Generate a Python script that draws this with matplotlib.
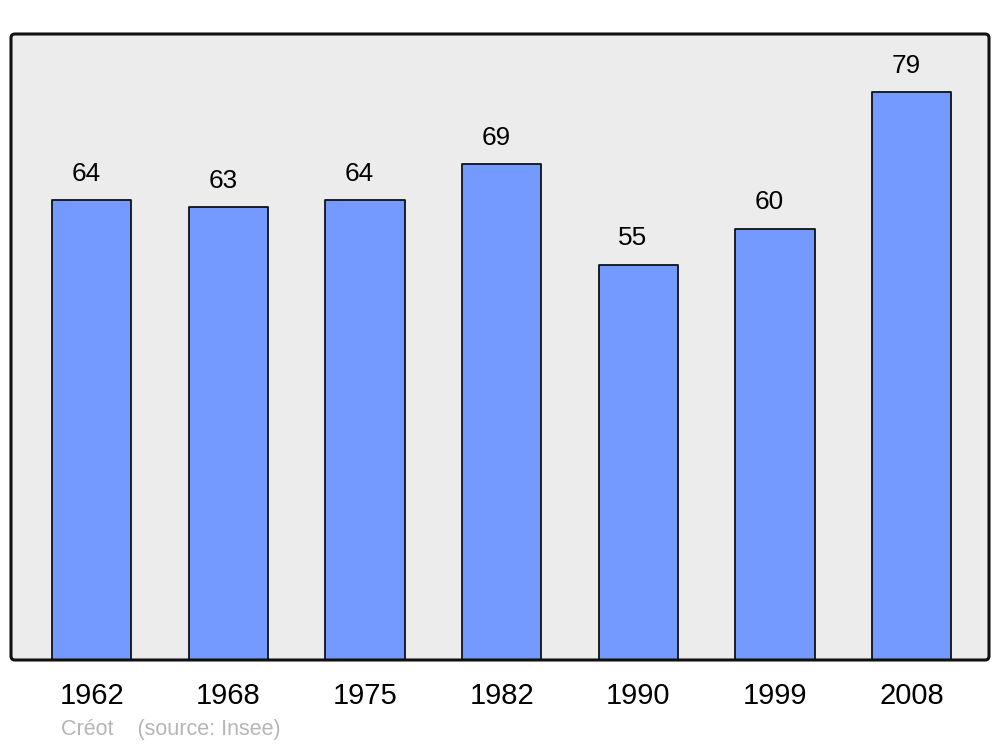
import matplotlib

matplotlib.use("Agg")
import matplotlib.pyplot as plt
from matplotlib.patches import FancyBboxPatch
from matplotlib.transforms import IdentityTransform

plt.rcParams["font.family"] = ["Liberation Sans", "DejaVu Sans"]

annees = ["1962", "1968", "1975", "1982", "1990", "1999", "2008"]
population = [64, 63, 64, 69, 55, 60, 79]

fig = plt.figure(figsize=(10, 7.47), dpi=100)
ax = fig.add_axes([0.011, 1 - 660 / 747, 0.978, 626 / 747])
ax.set_facecolor("none")

# cadre arrondi (pixels)
for fc, ec, z in [("#ececec", "none", -1), ("none", "#111111", 5)]:
    fig.patches.append(FancyBboxPatch((11, 87), 978, 626,
                                      boxstyle="round,pad=0,rounding_size=4",
                                      facecolor=fc, edgecolor=ec, linewidth=2.2,
                                      transform=IdentityTransform(), zorder=z))

x = range(len(annees))
ax.bar(x, population, width=0.58, color="#7499ff", edgecolor="#111111",
       linewidth=1.3, joinstyle="round", zorder=2)
for xi, v in zip(x, population):
    ax.annotate(str(v), (xi - 0.04, v), xytext=(0, 19), textcoords="offset points",
                ha="center", va="center", fontsize=18.8)

ax.set_xlim(-0.59, 6.565)
ax.set_ylim(0, 87.1)
ax.set_xticks(list(x))
ax.set_xticklabels(annees, fontsize=21)
ax.tick_params(axis="x", length=0, pad=16)
ax.set_yticks([])
for s in ax.spines.values():
    s.set_visible(False)

fig.text(0.061, 1 - 730 / 747, "Créot    (source: Insee)", color="#b5b5b5",
         fontsize=15.5, ha="left", va="center")

fig.savefig("out.png", dpi=100)
